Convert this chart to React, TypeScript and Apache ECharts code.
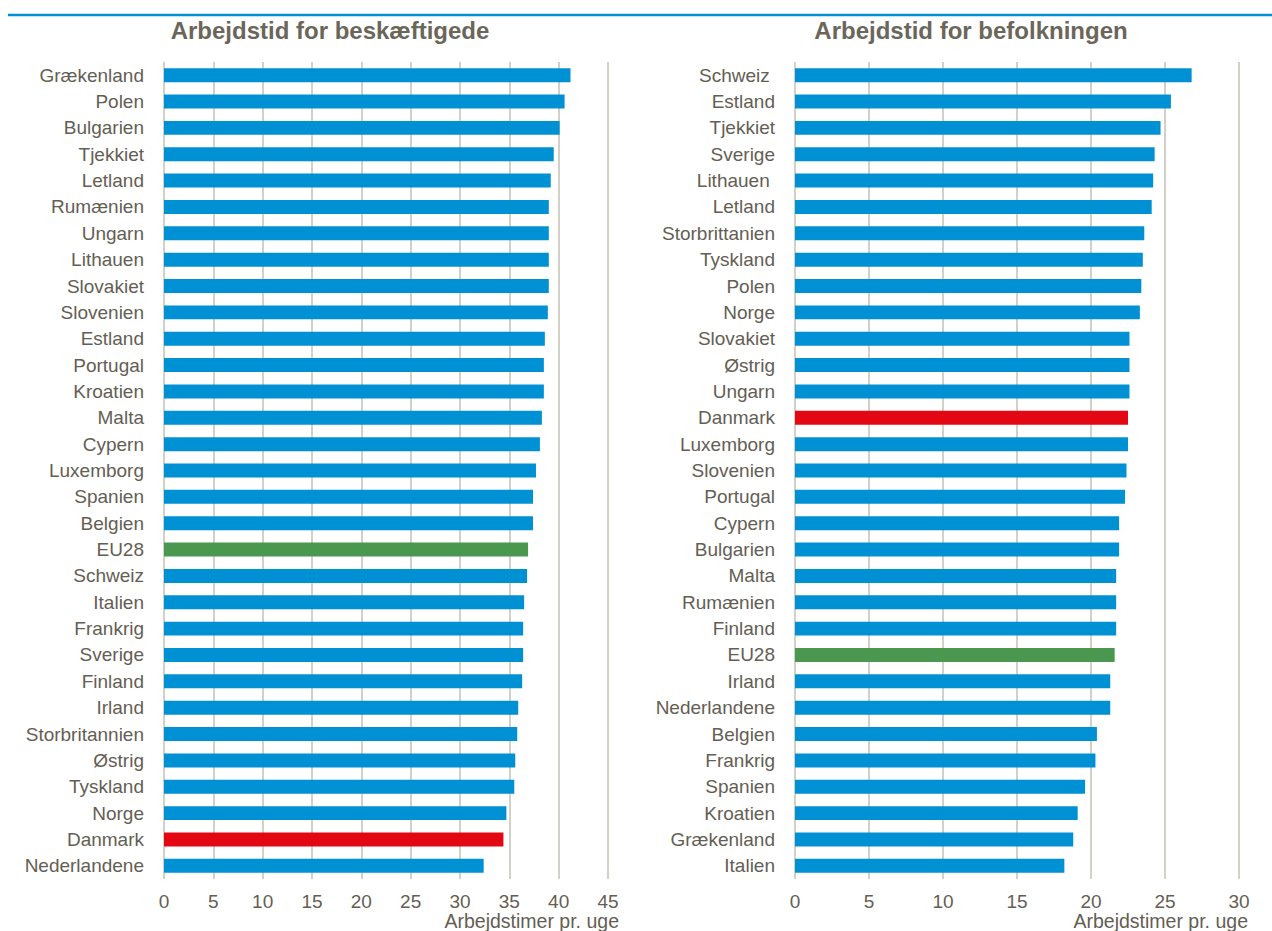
import React, { useEffect, useRef } from "react";
import * as echarts from "echarts";

const leftTitle = "Arbejdstid for beskæftigede";
const rightTitle = "Arbejdstid for befolkningen";
const axisName = "Arbejdstimer pr. uge";

const leftCountries = [
  "Grækenland", "Polen", "Bulgarien", "Tjekkiet", "Letland", "Rumænien", "Ungarn",
  "Lithauen", "Slovakiet", "Slovenien", "Estland", "Portugal", "Kroatien", "Malta",
  "Cypern", "Luxemborg", "Spanien", "Belgien", "EU28", "Schweiz", "Italien",
  "Frankrig", "Sverige", "Finland", "Irland", "Storbritannien", "Østrig", "Tyskland",
  "Norge", "Danmark", "Nederlandene",
];
const leftValues = [
  41.2, 40.6, 40.1, 39.5, 39.2, 39.0, 39.0, 39.0, 39.0, 38.9, 38.6, 38.5, 38.5, 38.3,
  38.1, 37.7, 37.4, 37.4, 36.9, 36.8, 36.5, 36.4, 36.4, 36.3, 35.9, 35.8, 35.6, 35.5,
  34.7, 34.4, 32.4,
];

const rightCountries = [
  "Schweiz ", "Estland", "Tjekkiet", "Sverige", "Lithauen ", "Letland", "Storbrittanien",
  "Tyskland", "Polen", "Norge", "Slovakiet", "Østrig", "Ungarn", "Danmark", "Luxemborg",
  "Slovenien", "Portugal", "Cypern", "Bulgarien", "Malta", "Rumænien", "Finland", "EU28",
  "Irland", "Nederlandene", "Belgien", "Frankrig", "Spanien", "Kroatien", "Grækenland",
  "Italien",
];
const rightValues = [
  26.8, 25.4, 24.7, 24.3, 24.2, 24.1, 23.6, 23.5, 23.4, 23.3, 22.6, 22.6, 22.6, 22.5,
  22.5, 22.4, 22.3, 21.9, 21.9, 21.7, 21.7, 21.7, 21.6, 21.3, 21.3, 20.4, 20.3, 19.6,
  19.1, 18.8, 18.2,
];

const leftTicks = { min: 0, max: 45, interval: 5 };
const rightTicks = { min: 0, max: 30, interval: 5 };

const BLUE = "#0091d5";
const RED = "#e30613";
const GREEN = "#4a9850";
const GRID = "#c4c1b6";
const TEXT = "#645e54";
const TITLE = "#6b665a";
const FONT = "'Liberation Sans', Arial, sans-serif";

function colorFor(name: string) {
  const n = name.trim();
  if (n === "Danmark") return RED;
  if (n === "EU28") return GREEN;
  return BLUE;
}

export default function App() {
  const ref = useRef<HTMLDivElement>(null);

  useEffect(() => {
    document.body.style.margin = "0";
    if (!ref.current) return;
    const chart = echarts.init(ref.current, undefined, { renderer: "svg" });

    const makeX = (ticks: typeof leftTicks, gridIndex: number) => ({
      type: "value",
      gridIndex,
      min: ticks.min,
      max: ticks.max,
      interval: ticks.interval,
      axisLine: { show: false },
      axisTick: { show: false },
      axisLabel: {
        color: TEXT,
        fontFamily: FONT,
        fontSize: 19,
        margin: 13,
      },
      splitLine: { show: true, lineStyle: { color: GRID, width: 1.5 } },
    });

    const makeY = (cats: string[], gridIndex: number) => ({
      type: "category",
      gridIndex,
      data: cats,
      inverse: true,
      axisLine: { show: false },
      axisTick: { show: false },
      axisLabel: {
        color: TEXT,
        fontFamily: FONT,
        fontSize: 19,
        margin: 20,
      },
      splitLine: { show: false },
    });

    const makeSeries = (cats: string[], vals: number[], idx: number) => ({
      type: "bar",
      xAxisIndex: idx,
      yAxisIndex: idx,
      barWidth: "53%",
      data: vals.map((v, i) => ({
        value: v,
        itemStyle: { color: colorFor(cats[i]) },
      })),
      z: 3,
    });

    const titleStyle = {
      fontFamily: FONT,
      fontSize: 24,
      fontWeight: "bold",
      color: TITLE,
    };

    chart.setOption({
      animation: false,
      backgroundColor: "#ffffff",
      title: [
        { text: leftTitle, left: 325, top: 13, textAlign: "center", textStyle: titleStyle },
        { text: rightTitle, left: 966, top: 13, textAlign: "center", textStyle: titleStyle },
      ],
      grid: [
        { left: 164, width: 444, top: 62, height: 817, containLabel: false },
        { left: 795, width: 444, top: 62, height: 817, containLabel: false },
      ],
      xAxis: [makeX(leftTicks, 0), makeX(rightTicks, 1)],
      yAxis: [makeY(leftCountries, 0), makeY(rightCountries, 1)],
      series: [
        makeSeries(leftCountries, leftValues, 0),
        makeSeries(rightCountries, rightValues, 1),
      ],
      graphic: [
        {
          type: "line",
          shape: { x1: 8, y1: 15, x2: 1272, y2: 15 },
          style: { stroke: BLUE, lineWidth: 2.5 },
        },
        {
          type: "text",
          x: 619,
          y: 921,
          style: {
            text: axisName,
            align: "right",
            verticalAlign: "middle",
            fontFamily: FONT,
            fontSize: 19.5,
            fill: TEXT,
          },
        },
        {
          type: "text",
          x: 1248,
          y: 921,
          style: {
            text: axisName,
            align: "right",
            verticalAlign: "middle",
            fontFamily: FONT,
            fontSize: 19.5,
            fill: TEXT,
          },
        },
      ],
    });

    return () => {
      chart.dispose();
    };
  }, []);

  return (
    <div
      ref={ref}
      style={{ position: "absolute", left: 0, top: 0, width: 1272, height: 931 }}
    />
  );
}
